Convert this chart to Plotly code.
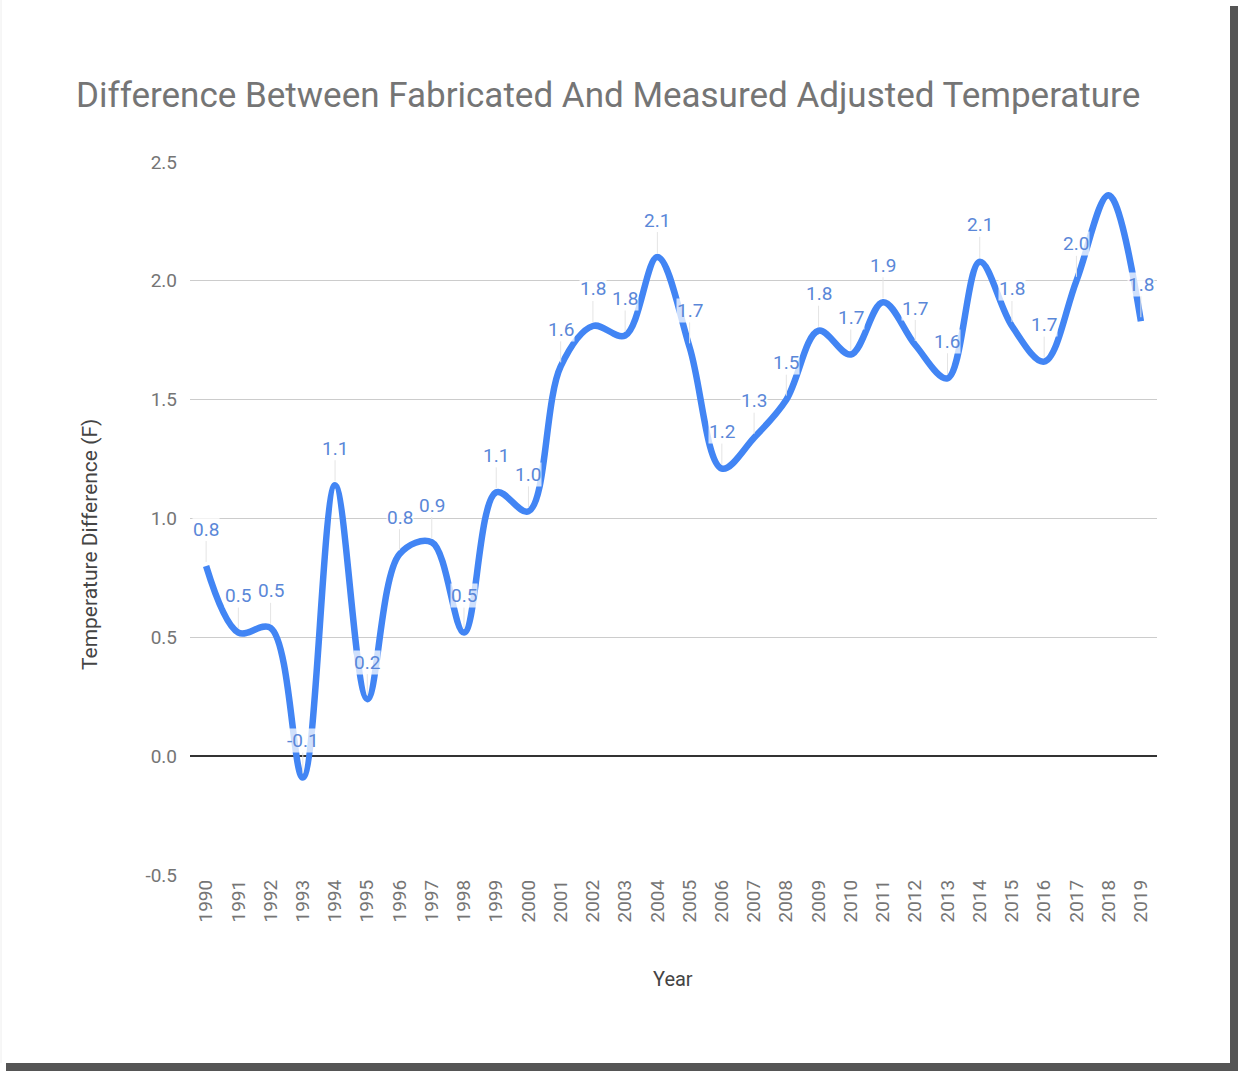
import plotly.graph_objects as go

YEARS = list(range(1990, 2020))
DIFF_F = [
    0.80, 0.52, 0.54, -0.09, 1.14, 0.24, 0.85, 0.90, 0.52, 1.11,
    1.03, 1.64, 1.81, 1.77, 2.10, 1.72, 1.21, 1.34, 1.50, 1.79,
    1.69, 1.91, 1.73, 1.59, 2.08, 1.81, 1.66, 2.00, 2.36, 1.83,
]
# the 2018 label is not shown on the original chart
UNLABELED_YEARS = [2018]
Y_TICKS = [-0.5, 0.0, 0.5, 1.0, 1.5, 2.0, 2.5]

TITLE = "Difference Between Fabricated And Measured Adjusted Temperature"
LINE_COLOR = "#4285f4"
LABEL_COLOR = "#5a87d8"
TEXT_GRAY = "#757575"
FONT = "Roboto"

W, H = 1238, 1071
M_L, M_R, M_T, M_B = 190, 81, 162, 196
PW, PH = W - M_L - M_R, H - M_T - M_B


def px_x(px):
    return (px - M_L) / PW


def px_y(py):
    return (H - M_B - py) / PH


fig = go.Figure()

fig.add_trace(go.Scatter(
    x=YEARS,
    y=DIFF_F,
    mode="lines",
    line=dict(color=LINE_COLOR, width=6.5, shape="spline", smoothing=1.0),
    hoverinfo="x+y",
    showlegend=False,
))

# data labels with faint leader lines, like the sheets chart
annotations = []
for year, val in zip(YEARS, DIFF_F):
    if year in UNLABELED_YEARS:
        continue
    annotations.append(dict(
        x=year, y=val, xref="x", yref="y",
        text=f"{val:.1f}",
        showarrow=True, arrowhead=0, arrowwidth=1, arrowcolor="#e4e4e4",
        ax=0, ay=-37, standoff=4,
        font=dict(family=FONT, size=19, color=LABEL_COLOR),
        bgcolor="rgba(255,255,255,0.75)", borderpad=0,
    ))

annotations.append(dict(
    x=px_x(90), y=px_y(545), xref="paper", yref="paper",
    text="Temperature Difference (F)", textangle=-90, showarrow=False,
    font=dict(family=FONT, size=21, color="#444444"),
    xanchor="center", yanchor="middle",
))
annotations.append(dict(
    x=px_x(673), y=px_y(979), xref="paper", yref="paper",
    text="Year", showarrow=False,
    font=dict(family=FONT, size=20, color="#444444"),
    xanchor="center", yanchor="middle",
))

# drop shadow around the screenshot card
shapes = [
    dict(type="rect", xref="paper", yref="paper",
         x0=px_x(1230), x1=px_x(1240), y0=px_y(1071), y1=px_y(6),
         fillcolor="#555555", line=dict(width=0), layer="below"),
    dict(type="rect", xref="paper", yref="paper",
         x0=px_x(6), x1=px_x(1240), y0=px_y(1073), y1=px_y(1063),
         fillcolor="#555555", line=dict(width=0), layer="below"),
    dict(type="line", xref="paper", yref="paper",
         x0=px_x(1), x1=px_x(1), y0=px_y(1063), y1=px_y(0),
         line=dict(color="#eeeeee", width=1), layer="below"),
]

fig.update_layout(
    width=W, height=H,
    margin=dict(l=M_L, r=M_R, t=M_T, b=M_B, autoexpand=False),
    paper_bgcolor="white",
    plot_bgcolor="white",
    font=dict(family=FONT, color=TEXT_GRAY),
    title=dict(
        text=TITLE,
        x=76 / W, xref="container", xanchor="left",
        y=1 - 95 / H, yref="container", yanchor="middle",
        font=dict(family=FONT, size=35, color=TEXT_GRAY),
    ),
    xaxis=dict(
        range=[1989.5, 2019.5],
        tickmode="array", tickvals=YEARS, ticktext=[str(y) for y in YEARS],
        tickangle=-90,
        tickfont=dict(family=FONT, size=19, color=TEXT_GRAY),
        showgrid=False, showline=False, zeroline=False,
        ticks="", ticklen=0,
    ),
    yaxis=dict(
        range=[-0.5, 2.5],
        tickvals=Y_TICKS,
        ticktext=[f"{v:.1f}" for v in Y_TICKS],
        tickfont=dict(family=FONT, size=19, color=TEXT_GRAY),
        showgrid=True, gridcolor="#cccccc", gridwidth=1,
        zeroline=True, zerolinecolor="#333333", zerolinewidth=1.5,
        showline=False, ticks="", ticklabelstandoff=12,
    ),
    annotations=annotations,
    shapes=shapes,
    showlegend=False,
)

fig.write_html(
    "out.html",
    config={"displayModeBar": False},
    post_script="document.body.style.margin = '0';",
)
